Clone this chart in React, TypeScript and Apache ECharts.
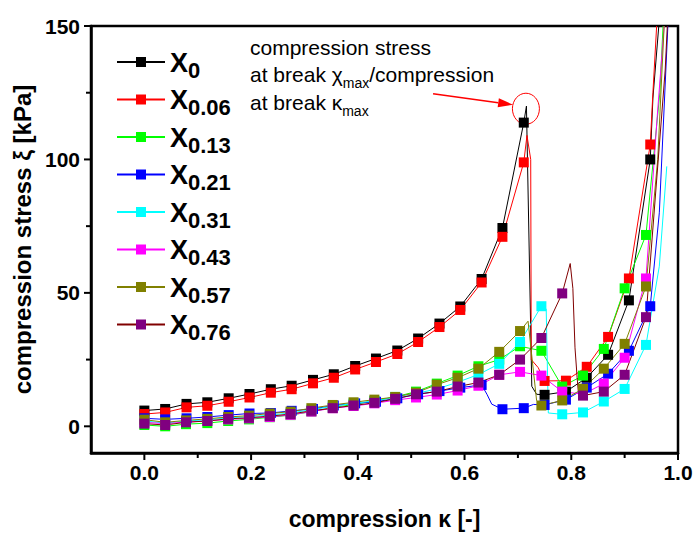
import React, { useEffect, useRef } from "react";
import * as echarts from "echarts";

const FONT = "'Liberation Sans', Arial, sans-serif";

const seriesNames = ["X0", "X0.06", "X0.13", "X0.21", "X0.31", "X0.43", "X0.57", "X0.76"];
const markerColors = ["#000000", "#ff0000", "#00ff00", "#0000ff", "#00ffff", "#ff00ff", "#808000", "#800080"];
const lineColors = ["#000000", "#ff0000", "#00ff00", "#0000ff", "#00ffff", "#ff00ff", "#808000", "#800000"];

// marker x positions (two sampling grids)
const markerXA = [0, 0.039, 0.079, 0.118, 0.158, 0.197, 0.237, 0.276, 0.316, 0.355, 0.395, 0.434, 0.474, 0.513, 0.553, 0.592, 0.632, 0.671, 0.711, 0.75, 0.79, 0.829, 0.869, 0.908, 0.948];
const markerXB = [0, 0.039, 0.078, 0.118, 0.157, 0.196, 0.235, 0.274, 0.313, 0.353, 0.392, 0.431, 0.47, 0.509, 0.548, 0.587, 0.626, 0.665, 0.704, 0.744, 0.783, 0.822, 0.861, 0.9, 0.94];

// marker y values (kPa)
const yX0 = [5.9, 6.5, 8.4, 9, 10.5, 12.1, 13.9, 15.2, 17.4, 19.5, 22.6, 25.4, 28.4, 32.9, 38.5, 44.9, 55.2, 74.3, 113.8, 11.8, 13, 18.2, 26.8, 47.2, 100];
const yX006 = [4.6, 5.2, 7.1, 7.7, 9.2, 10.8, 12.6, 13.9, 16.1, 18.2, 21.3, 24.1, 27.1, 31.6, 37.2, 43.6, 53.9, 71, 98.9, 17, 17.1, 22.3, 33.5, 55.4, 105.6];
const yX013 = [0.5, 0, 0.8, 1.2, 2, 2.6, 3.4, 4.2, 5.5, 7, 8.2, 9.5, 11, 13, 16, 19, 22.5, 25, 30, 28.3, 14.9, 19, 29, 51.7, 71.7];
const yX021 = [3, 2.6, 3, 3.5, 4.2, 4.8, 5, 5.8, 6.5, 7.8, 8.6, 9.2, 10.5, 12, 13.2, 14.5, 15.5, 6.4, 6.8, 8, 10, 14.5, 19.7, 28.3, 45];
const yX031 = [2, 1.2, 2, 2.4, 3.2, 3.6, 4.2, 5, 6.2, 7.5, 8.6, 9.5, 11, 12.3, 14, 16.5, 19.4, 23.4, 31.6, 45, 4.5, 5.2, 9.3, 14, 30.5];
const yX043 = [1.5, 1, 1.6, 2, 2.6, 3, 3.5, 4.3, 5.5, 6.8, 7.6, 8.6, 9.8, 10.8, 11.9, 13.4, 15.2, 19.3, 20.4, 19, 13, 12, 16, 25.7, 55.4];
const yX057 = [2.5, 1.5, 2.2, 2.8, 3.5, 4, 4.8, 5.5, 6.8, 8, 9, 10, 11, 12.6, 15.6, 18.2, 21.6, 27.9, 35.7, 7.8, 9.7, 14.1, 21.6, 30.9, 52.4];
const yX076 = [1, 0.5, 1.5, 2, 2.8, 3.2, 3.8, 4.6, 5.8, 6.8, 7.8, 8.8, 10.3, 12, 13, 14.9, 16.4, 19.3, 25, 33.1, 49.8, 11.5, 13, 19.3, 40.9];

// extra line points without markers [x, y]
const extraX0 = [[0.716, 120], [0.726, 15], [0.735, 12], [0.953, 123], [0.964, 150]];
const extraX006 = [[0.717, 109], [0.724, 100], [0.725, 25], [0.738, 22], [0.953, 125], [0.96, 150]];
const extraX013 = [[0.966, 125], [0.972, 150]];
const extraX021 = [[0.642, 12], [0.651, 8.3], [0.729, 8.2], [0.965, 80], [0.981, 150]];
const extraX031 = [[0.753, 44], [0.757, 5], [0.965, 60], [0.979, 97.4]];
const extraX043 = [[0.961, 116], [0.974, 150]];
const extraX057 = [[0.719, 39.4], [0.735, 9.7], [0.962, 100], [0.974, 150]];
const extraX076 = [[0.798, 61], [0.803, 51.7], [0.807, 29.4], [0.811, 18.2], [0.813, 13.4], [0.976, 133.5], [0.98, 150]];

const markerX = [markerXA, markerXA, markerXB, markerXA, markerXB, markerXB, markerXB, markerXB];
const markerY = [yX0, yX006, yX013, yX021, yX031, yX043, yX057, yX076];
const extras = [extraX0, extraX006, extraX013, extraX021, extraX031, extraX043, extraX057, extraX076];

const xMin = -0.1;
const xMax = 1.0;
const yMin = -10;
const yMax = 150;
const xLabelValues = [0, 0.2, 0.4, 0.6, 0.8, 1.0];
const xMinorValues = [0.1, 0.3, 0.5, 0.7, 0.9];
const yLabelValues = [0, 50, 100, 150];
const yMinorValues = [25, 75, 125];

// annotation anchors in data coordinates
const arrowStart = [0.541, 124.6];
const arrowTip = [0.691, 120.5];
const circleCenter = [0.715, 119];

function buildData(i: number) {
  const pts: any[] = [];
  markerX[i].forEach((x, k) => pts.push({ value: [x, markerY[i][k]] }));
  extras[i].forEach((p) => pts.push({ value: [p[0], p[1]], symbol: "none" }));
  pts.sort((a, b) => a.value[0] - b.value[0]);
  return pts;
}

export default function App() {
  const ref = useRef<HTMLDivElement>(null);
  useEffect(() => {
    if (!ref.current) return;
    const chart = echarts.init(ref.current, null, { renderer: "svg" });
    const series = seriesNames.map((name, i) => ({
      name,
      type: "line",
      data: buildData(i),
      symbol: "rect",
      symbolSize: 10,
      showSymbol: true,
      showAllSymbol: true,
      itemStyle: { color: markerColors[i] },
      lineStyle: { color: lineColors[i], width: 1 },
      emphasis: { disabled: true },
    }));
    const axisLabelStyle = { fontSize: 21, fontWeight: "bold", color: "#000", fontFamily: FONT };
    chart.setOption({
      animation: false,
      textStyle: { fontFamily: FONT },
      grid: { left: 91, right: 20, top: 26, bottom: 79, show: true, borderColor: "#000", borderWidth: 2.5, backgroundColor: "transparent" },
      legend: {
        orient: "vertical",
        left: 111,
        top: 44,
        itemWidth: 48,
        itemHeight: 12.5,
        itemGap: 3.5,
        selectedMode: false,
        data: seriesNames,
        formatter: (n: string) => "{x|X}{s|" + n.slice(1) + "}",
        textStyle: {
          color: "#000",
          rich: {
            x: { fontSize: 27, fontWeight: "bold", lineHeight: 26, verticalAlign: "top", fontFamily: FONT, color: "#000" },
            s: { fontSize: 22, fontWeight: "bold", lineHeight: 22, padding: [10, 0, 2, 0], verticalAlign: "top", fontFamily: FONT, color: "#000" },
          },
        },
      },
      xAxis: {
        type: "value",
        min: xMin,
        max: xMax,
        position: "bottom",
        axisLine: { show: true, onZero: false, lineStyle: { color: "#000", width: 2.5 } },
        axisTick: { show: false },
        axisLabel: { ...axisLabelStyle, customValues: xLabelValues, margin: 9, formatter: (v: number) => v.toFixed(1) },
        splitLine: { show: false },
        name: "compression κ [-]",
        nameLocation: "middle",
        nameGap: 54,
        nameTextStyle: { fontSize: 23, fontWeight: "bold", color: "#000", fontFamily: FONT },
      },
      yAxis: {
        type: "value",
        min: yMin,
        max: yMax,
        position: "left",
        axisLine: { show: true, onZero: false, lineStyle: { color: "#000", width: 2.5 } },
        axisTick: { show: false },
        axisLabel: { ...axisLabelStyle, customValues: yLabelValues, margin: 11 },
        splitLine: { show: false },
        name: "compression stress ξ [kPa]",
        nameLocation: "middle",
        nameGap: 51,
        nameTextStyle: { fontSize: 24, fontWeight: "bold", color: "#000", fontFamily: FONT },
      },
      series,
    });

    const toPx = (p: number[]) => chart.convertToPixel({ xAxisIndex: 0, yAxisIndex: 0 }, p) as number[];

    // axis ticks, positioned through the chart's own scales
    const tickEls: any[] = [];
    const tickStyle = { stroke: "#000", lineWidth: 2 };
    const addXTick = (v: number, len: number) => {
      const p = toPx([v, yMin]);
      tickEls.push({ type: "line", z: 50, shape: { x1: p[0], y1: p[1], x2: p[0], y2: p[1] + len }, style: tickStyle });
    };
    const addYTick = (v: number, len: number) => {
      const p = toPx([xMin, v]);
      tickEls.push({ type: "line", z: 50, shape: { x1: p[0], y1: p[1], x2: p[0] - len, y2: p[1] }, style: tickStyle });
    };
    xLabelValues.forEach((v) => addXTick(v, 7));
    xMinorValues.forEach((v) => addXTick(v, 5));
    yLabelValues.forEach((v) => addYTick(v, 7));
    yMinorValues.forEach((v) => addYTick(v, 5));

    const s = toPx(arrowStart);
    const t = toPx(arrowTip);
    const c = toPx(circleCenter);
    const dx = t[0] - s[0];
    const dy = t[1] - s[1];
    const len = Math.sqrt(dx * dx + dy * dy);
    const ux = dx / len;
    const uy = dy / len;
    const headLen = 15;
    const headHalf = 4.5;
    const bx = t[0] - ux * headLen;
    const by = t[1] - uy * headLen;
    const annRich = {
      n: { fontSize: 21, lineHeight: 22, verticalAlign: "top", fontFamily: FONT, fill: "#000", color: "#000" },
      s: { fontSize: 14, lineHeight: 14, padding: [12, 0, 0, 0], verticalAlign: "top", fontFamily: FONT, fill: "#000", color: "#000" },
    };
    chart.setOption({
      graphic: [
        ...tickEls,
        { type: "text", x: 250, y: 37, style: { text: "{n|compression stress}", rich: annRich, verticalAlign: "top", align: "left" } },
        { type: "text", x: 250, y: 64, style: { text: "{n|at break χ}{s|max}{n|/compression}", rich: annRich, verticalAlign: "top", align: "left" } },
        { type: "text", x: 250, y: 92, style: { text: "{n|at break κ}{s|max}", rich: annRich, verticalAlign: "top", align: "left" } },
        { type: "line", shape: { x1: s[0], y1: s[1], x2: bx, y2: by }, style: { stroke: "#ff0000", lineWidth: 1.5 } },
        {
          type: "polygon",
          shape: { points: [[t[0], t[1]], [bx - uy * headHalf, by + ux * headHalf], [bx + uy * headHalf, by - ux * headHalf]] },
          style: { fill: "#ff0000" },
        },
        { type: "ellipse", shape: { cx: c[0], cy: c[1], rx: 13.5, ry: 15.5 }, style: { fill: "none", stroke: "#ff0000", lineWidth: 1 } },
      ],
    });
    return () => chart.dispose();
  }, []);
  return <div ref={ref} style={{ position: "fixed", left: 0, top: 0, width: 698, height: 535, background: "#fff" }} />;
}
